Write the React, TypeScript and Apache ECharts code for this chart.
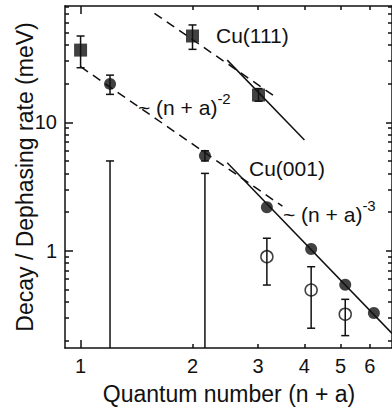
import React, { useEffect, useRef } from "react";
import * as echarts from "echarts";

// Axis ranges (log-log)
const X_MIN = 0.908;
const X_MAX = 6.88;
const Y_MIN = 0.1746;
const Y_MAX = 80.5;

// Ticks
const xMajorTicks = [1];
const xMinorTicks = [2, 3, 4, 5, 6];
const xTickLabels = [1, 2, 3, 4, 5, 6];
const yMajorTicks = [1, 10];
const yMinorTicks = [0.2, 0.3, 0.4, 0.5, 0.6, 0.7, 0.8, 0.9, 2, 3, 4, 5, 6, 7, 8, 9, 20, 30, 40, 50, 60, 70, 80];
const yTickLabels = [1, 10];

// Cu(111) filled squares
const cu111X = [1.0, 2.0, 3.01];
const cu111Y = [36.5, 47, 16.3];
const cu111Low = [26.6, 37, 14.6];
const cu111High = [47, 57.3, 18.3];

// Cu(001) filled circles
const cu001X = [1.2, 2.16, 3.17, 4.17, 5.15, 6.15];
const cu001Y = [19.9, 5.5, 2.18, 1.03, 0.543, 0.327];
const cu001ErrX = [1.2, 2.16];
const cu001ErrLow = [16.5, 5.0];
const cu001ErrHigh = [23.3, 6.0];

// Open circles
const openX = [3.17, 4.17, 5.15];
const openY = [0.898, 0.494, 0.32];
const openLow = [0.54, 0.249, 0.218];
const openHigh = [1.25, 0.75, 0.418];

// Tall lower-bound bars (top value, extend down to axis)
const tallX = [1.2, 2.16];
const tallTop = [5.0, 4.0];

// Guide lines (endpoints)
const fit001DashX = [1.0, 3.49];
const fit001DashY = [27.1, 2.22];
const fit001SolidX = [2.48, 6.88];
const fit001SolidY = [4.84, 0.227];
const fit111DashX = [1.58, 3.32];
const fit111DashY = [70.6, 16.0];
const fit111SolidX = [2.48, 4.0];
const fit111SolidY = [30.5, 7.27];

const INK = "#111111";
const FONT = "'Liberation Sans', Arial, Helvetica, sans-serif";

function pairs(xs: number[], ys: number[]) {
  return xs.map((x, i) => [x, ys[i]]);
}
function triples(xs: number[], lo: number[], hi: number[]) {
  return xs.map((x, i) => [x, lo[i], hi[i]]);
}

const errorRender = (capTop: boolean, capBottom: boolean, toAxis: boolean) =>
  (params: any, api: any) => {
    const x = api.value(0);
    const top = api.value(1);
    const p1 = api.coord([x, top]);
    const p2 = toAxis ? api.coord([x, Y_MIN]) : api.coord([x, api.value(2)]);
    const hw = 4;
    const style = { stroke: INK, lineWidth: 1.5 };
    const children: any[] = [
      { type: "line", shape: { x1: p1[0], y1: p1[1], x2: p2[0], y2: p2[1] }, style },
    ];
    if (capTop) {
      const yy = toAxis ? p1[1] : Math.min(p1[1], p2[1]);
      children.push({ type: "line", shape: { x1: p1[0] - hw, y1: yy, x2: p1[0] + hw, y2: yy }, style });
    }
    if (capBottom) {
      const yy = Math.max(p1[1], p2[1]);
      children.push({ type: "line", shape: { x1: p1[0] - hw, y1: yy, x2: p1[0] + hw, y2: yy }, style });
    }
    return { type: "group", children };
  };

function logAxis(kind: "x" | "y", position: string, ticks: number[], len: number, labels: number[] | null, line: boolean) {
  const a: any = {
    type: "log",
    logBase: 10,
    min: kind === "x" ? X_MIN : Y_MIN,
    max: kind === "x" ? X_MAX : Y_MAX,
    position,
    axisLine: { show: line, lineStyle: { color: INK, width: 1.5 } },
    axisTick: { show: true, inside: true, length: len, customValues: ticks, lineStyle: { color: INK, width: 1.5 } },
    axisLabel: labels
      ? { show: true, customValues: labels, color: INK, fontSize: 20, fontFamily: FONT, margin: 8, formatter: (v: number) => String(v) }
      : { show: false },
    splitLine: { show: false },
    minorTick: { show: false },
  };
  return a;
}

export default function App() {
  const ref = useRef<HTMLDivElement>(null);
  useEffect(() => {
    if (!ref.current) return;
    const chart = echarts.init(ref.current, undefined, { renderer: "svg" });
    const lineStyleSolid = { color: INK, width: 1.5, type: "solid" as const };
    const lineStyleDash = { color: INK, width: 1.5, type: [9, 6] as any };
    const richAnno = {
      b: { fontSize: 21, lineHeight: 27, verticalAlign: "bottom", fill: INK, fontFamily: FONT },
      s: { fontSize: 15, lineHeight: 15, verticalAlign: "top", fill: INK, fontFamily: FONT },
    };
    chart.setOption({
      animation: false,
      backgroundColor: "#ffffff",
      grid: { left: 65, top: 6, width: 328, height: 342, containLabel: false },
      xAxis: [
        logAxis("x", "bottom", xMajorTicks, 8, xTickLabels, true),
        logAxis("x", "bottom", xMinorTicks, 4, null, false),
        logAxis("x", "top", xMajorTicks, 8, null, true),
        logAxis("x", "top", xMinorTicks, 4, null, false),
      ],
      yAxis: [
        logAxis("y", "left", yMajorTicks, 8, yTickLabels, true),
        logAxis("y", "left", yMinorTicks, 4, null, false),
        logAxis("y", "right", yMajorTicks, 6, null, true),
        logAxis("y", "right", yMinorTicks, 4, null, false),
      ],
      series: [
        { type: "line", data: pairs(fit001DashX, fit001DashY), symbol: "none", lineStyle: lineStyleDash, z: 2 },
        { type: "line", data: pairs(fit001SolidX, fit001SolidY), symbol: "none", lineStyle: lineStyleSolid, z: 2 },
        { type: "line", data: pairs(fit111DashX, fit111DashY), symbol: "none", lineStyle: lineStyleDash, z: 2 },
        { type: "line", data: pairs(fit111SolidX, fit111SolidY), symbol: "none", lineStyle: lineStyleSolid, z: 2 },
        {
          type: "custom",
          renderItem: errorRender(true, false, true),
          data: pairs(tallX, tallTop),
          encode: { x: 0, y: 1 },
          z: 3,
          clip: true,
        },
        {
          type: "custom",
          renderItem: errorRender(true, true, false),
          data: [
            ...triples(cu111X, cu111High, cu111Low),
            ...triples(cu001ErrX, cu001ErrHigh, cu001ErrLow),
            ...triples(openX, openHigh, openLow),
          ],
          encode: { x: 0, y: [1, 2] },
          z: 3,
        },
        {
          type: "scatter",
          data: pairs(cu111X, cu111Y),
          symbol: "rect",
          symbolSize: 13,
          itemStyle: { color: INK },
          z: 5,
        },
        {
          type: "scatter",
          data: pairs(cu001X, cu001Y),
          symbol: "circle",
          symbolSize: 12,
          itemStyle: { color: INK },
          z: 5,
        },
        {
          type: "scatter",
          data: pairs(openX, openY),
          symbol: "circle",
          symbolSize: 12,
          itemStyle: { color: "rgba(0,0,0,0)", borderColor: INK, borderWidth: 1.5 },
          z: 5,
        },
      ],
      graphic: [
        {
          type: "text",
          x: 25,
          y: 177,
          rotation: Math.PI / 2,
          style: { text: "Decay / Dephasing rate (meV)", fontSize: 23, fontFamily: FONT, fill: INK, align: "center", verticalAlign: "middle" },
        },
        {
          type: "text",
          x: 229,
          y: 394,
          style: { text: "Quantum number (n + a)", fontSize: 23, fontFamily: FONT, fill: INK, align: "center", verticalAlign: "middle" },
        },
        {
          type: "text",
          x: 216,
          y: 35,
          style: { text: "Cu(111)", fontSize: 21, fontFamily: FONT, fill: INK, align: "left", verticalAlign: "middle" },
        },
        {
          type: "text",
          x: 249,
          y: 168,
          style: { text: "Cu(001)", fontSize: 21, fontFamily: FONT, fill: INK, align: "left", verticalAlign: "middle" },
        },
        {
          type: "text",
          x: 138,
          y: 104,
          style: { text: "{b|~ (n + a)}{s|-2}", fontFamily: FONT, align: "left", verticalAlign: "middle", rich: richAnno },
        },
        {
          type: "text",
          x: 283,
          y: 211,
          style: { text: "{b|~ (n + a)}{s|-3}", fontFamily: FONT, align: "left", verticalAlign: "middle", rich: richAnno },
        },
      ],
    });
    return () => chart.dispose();
  }, []);
  return (
    <div
      ref={ref}
      style={{ position: "fixed", left: 0, top: 0, width: 392, height: 409, background: "#fff" }}
    />
  );
}
